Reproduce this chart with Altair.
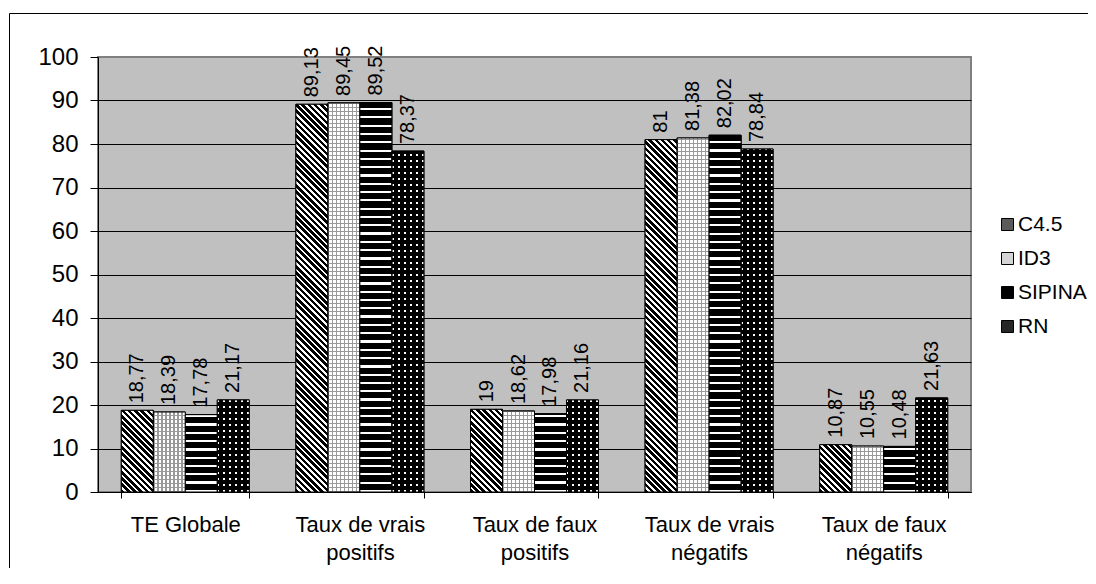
import math
import altair as alt
import pandas as pd

# ---------------- data ----------------
categories = ["TE Globale", "Taux de vrais|positifs", "Taux de faux|positifs",
              "Taux de vrais|négatifs", "Taux de faux|négatifs"]
series = ["C4.5", "ID3", "SIPINA", "RN"]
c45 = [18.77, 89.13, 19, 81, 10.87]
id3 = [18.39, 89.45, 18.62, 81.38, 10.55]
sipina = [17.78, 89.52, 17.98, 82.02, 10.48]
rn = [21.17, 78.37, 21.16, 78.84, 21.63]
y_ticks = list(range(0, 101, 10))

values = {"C4.5": c45, "ID3": id3, "SIPINA": sipina, "RN": rn}
rows = []
for s in series:
    for c, v in zip(categories, values[s]):
        rows.append({"cat": c, "series": s, "value": v,
                     "label": str(v).replace(".", ",")})
df = pd.DataFrame(rows)

# ---------------- geometry ----------------
W, H = 873, 435
P_IN, P_OUT = 0.267, 0.1335
step = W / (len(categories) - P_IN + 2 * P_OUT)
BAR_W = step * (1 - P_IN) / len(series)
FONT = "Liberation Sans"


def stripes(length, period, first, ca, cb):
    stops = []
    pos = 0.0
    while pos < length - 1e-9:
        e1 = min(pos + first, length)
        stops += [(pos, ca), (e1, ca)]
        if e1 < length:
            e2 = min(pos + period, length)
            stops += [(e1, cb), (e2, cb)]
        pos += period
    return [{"offset": round(p / length, 5), "color": c} for p, c in stops]


def grad_y(h, period, first, ca, cb):
    return {"gradient": "linear", "x1": 1, "y1": 1, "x2": 1, "y2": 0,
            "stops": stripes(h, period, first, ca, cb)}


def grad_x(w, period, first, ca, cb):
    return {"gradient": "linear", "x1": 0, "y1": 0, "x2": 1, "y2": 0,
            "stops": stripes(w, period, first, ca, cb)}


def grad_diag(w, h, period, first, ca, cb):
    d = (w + h) / (w * w + h * h)
    L = (w + h) / math.sqrt(2)
    return {"gradient": "linear", "x1": 0, "y1": 1, "x2": w * d, "y2": 1 - h * d,
            "stops": stripes(L, period, first, ca, cb)}


x_enc = alt.X("cat:N", sort=categories,
              scale=alt.Scale(domain=categories, paddingInner=P_IN, paddingOuter=P_OUT),
              axis=alt.Axis(title=None, labelAngle=0, labelExpr="split(datum.label, '|')",
                            labelFont=FONT, labelFontSize=22, labelColor="black",
                            labelLineHeight=28, labelPadding=16, tickBand="extent",
                            tickSize=6, tickColor="black", domainColor="black",
                            grid=False, labelLimit=300))
xo_enc = alt.XOffset("series:N", sort=series,
                     scale=alt.Scale(domain=series, paddingInner=0, paddingOuter=0))
y_enc = alt.Y("value:Q", scale=alt.Scale(domain=[0, 100], nice=False),
              axis=alt.Axis(title=None, values=y_ticks, labelFont=FONT, labelFontSize=24,
                            labelColor="black", labelPadding=12, tickSize=8,
                            tickColor="black", domainColor="black", grid=True,
                            gridColor={"condition": {"test": "datum.value == 100",
                                                     "value": "#808080"},
                                       "value": "black"},
                            gridWidth=1))

base = alt.Chart(df)

bars = base.mark_bar(stroke="black", strokeWidth=1).encode(
    x=x_enc, xOffset=xo_enc, y=y_enc,
    color=alt.Color("series:N", sort=series,
                    scale=alt.Scale(domain=series,
                                    range=["#5a5a5a", "#d4d4d4", "#000000", "#262626"]),
                    legend=alt.Legend(title=None, orient="none", legendX=899, legendY=157,
                                      symbolType="square", symbolSize=144,
                                      symbolStrokeColor="black", symbolStrokeWidth=1,
                                      labelFont=FONT, labelFontSize=21, labelColor="black",
                                      rowPadding=12, labelOffset=0, padding=0)),
)

layers = [bars]

# series-level vertical stripe under-layers (ID3 and RN)
layers.append(base.transform_filter("datum.series == 'ID3'").mark_bar(
    fill=grad_x(BAR_W, 4, 1.2, "#9a9a9a", "#ffffff"), strokeWidth=0).encode(
    x=x_enc, xOffset=xo_enc, y=y_enc))
layers.append(base.transform_filter("datum.series == 'RN'").mark_bar(
    fill=grad_x(BAR_W, 6, 2, "#ffffff", "#000000"), strokeWidth=0).encode(
    x=x_enc, xOffset=xo_enc, y=y_enc))

for s in series:
    for c, v in zip(categories, values[s]):
        h = v * H / 100.0
        if s == "C4.5":
            fill = grad_diag(BAR_W, h, 4.4, 2.5, "#000000", "#ffffff")
        elif s == "ID3":
            fill = grad_y(h, 4, 1.2, "#9a9a9a", "rgba(0,0,0,0)")
        elif s == "SIPINA":
            fill = grad_y(h, 8.3, 2.2, "#ffffff", "#000000")
        else:
            fill = grad_y(h, 6, 2, "rgba(0,0,0,0)", "#000000")
        layers.append(
            base.transform_filter(f"datum.series == '{s}' && datum.cat == '{c}'")
            .mark_bar(fill=fill, stroke="black", strokeWidth=1)
            .encode(x=x_enc, xOffset=xo_enc, y=y_enc))

labels = base.mark_text(angle=270, align="left", baseline="middle", dx=7,
                        font=FONT, fontSize=20, color="black").encode(
    x=x_enc, xOffset=xo_enc, y=y_enc, text="label:N")
layers.append(labels)

border = alt.Chart(pd.DataFrame({"k": [0]})).mark_rect(
    filled=False, stroke="black", strokeWidth=1).encode(
    x=alt.value(-88.5), y=alt.value(-43.5), x2=alt.value(1010), y2=alt.value(600))
layers.append(border)

chart = alt.layer(*layers).properties(
    width=W, height=H,
    padding={"left": 90, "top": 49, "right": 117, "bottom": 76},
    autosize=alt.AutoSizeParams(type="none"),
).configure_view(fill="#c0c0c0", stroke="#808080", strokeWidth=2)

chart.save("out.html", embed_options={"renderer": "svg", "actions": False})
